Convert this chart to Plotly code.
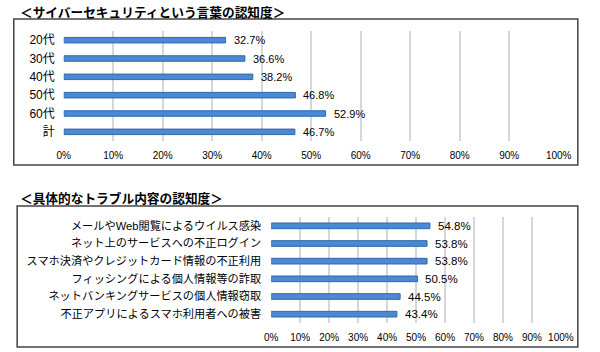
import plotly.graph_objects as go

# ---- data ----
age_groups = ["20代", "30代", "40代", "50代", "60代", "計"]
age_values = [32.7, 36.6, 38.2, 46.8, 52.9, 46.7]

troubles = [
    "メールやWeb閲覧によるウイルス感染",
    "ネット上のサービスへの不正ログイン",
    "スマホ決済やクレジットカード情報の不正利用",
    "フィッシングによる個人情報等の詐取",
    "ネットバンキングサービスの個人情報窃取",
    "不正アプリによるスマホ利用者への被害",
]
trouble_values = [54.8, 53.8, 53.8, 50.5, 44.5, 43.4]

title_top = "＜サイバーセキュリティという言葉の認知度＞"
title_bottom = "＜具体的なトラブル内容の認知度＞"
x_ticks = list(range(0, 101, 10))
x_tick_labels = [f"{t}%" for t in x_ticks]

W, H = 600, 352
FONT = "Liberation Sans, Noto Sans CJK JP, sans-serif"
BAR_FILL = "#4a89d4"
BAR_LINE = "#2f68ad"
GRID = "#d6d6d6"

fig = go.Figure()

fig.add_trace(go.Bar(
    x=age_values, y=age_groups, orientation="h",
    width=0.3, marker=dict(color=BAR_FILL, line=dict(color=BAR_LINE, width=1)),
    xaxis="x", yaxis="y", hoverinfo="skip", showlegend=False,
))
fig.add_trace(go.Bar(
    x=trouble_values, y=troubles, orientation="h",
    width=0.32, marker=dict(color=BAR_FILL, line=dict(color=BAR_LINE, width=1)),
    xaxis="x2", yaxis="y2", hoverinfo="skip", showlegend=False,
))

def px_x(p):
    return p / W

def px_y(p):
    return 1 - p / H

xcommon = dict(
    range=[0, 100], tickvals=x_ticks, ticktext=x_tick_labels, showgrid=True,
    gridcolor=GRID, gridwidth=1.5, zeroline=False, showline=False,
    ticks="", tickfont=dict(family=FONT, size=10, color="#000"),
    fixedrange=True,
)
ycommon = dict(
    autorange="reversed", showgrid=False, zeroline=False, showline=False,
    ticks="", fixedrange=True,
)

annotations = []
for v, c in zip(age_values, age_groups):
    annotations.append(dict(x=v, y=c, xref="x", yref="y", text=f"{v:.1f}%",
                            showarrow=False, xanchor="left", xshift=6,
                            font=dict(family=FONT, size=11, color="#000")))
for v, c in zip(trouble_values, troubles):
    annotations.append(dict(x=v, y=c, xref="x2", yref="y2", text=f"{v:.1f}%",
                            showarrow=False, xanchor="left", xshift=6,
                            font=dict(family=FONT, size=11.5, color="#000")))

annotations.append(dict(x=px_x(11), y=px_y(11), xref="paper", yref="paper",
                        text=f"<b>{title_top}</b>", showarrow=False,
                        xanchor="left", yanchor="middle",
                        font=dict(family="Noto Sans CJK JP", size=12.7, color="#000")))
annotations.append(dict(x=px_x(11), y=px_y(197), xref="paper", yref="paper",
                        text=f"<b>{title_bottom}</b>", showarrow=False,
                        xanchor="left", yanchor="middle",
                        font=dict(family="Noto Sans CJK JP", size=12.7, color="#000")))

shapes = [
    dict(type="rect", xref="paper", yref="paper",
         x0=px_x(7), x1=px_x(590.5), y0=px_y(165), y1=px_y(19),
         line=dict(color="#444", width=1.5), fillcolor="rgba(0,0,0,0)", layer="below"),
    dict(type="rect", xref="paper", yref="paper",
         x0=px_x(10.5), x1=px_x(590.5), y0=px_y(347), y1=px_y(206),
         line=dict(color="#444", width=1.5), fillcolor="rgba(0,0,0,0)", layer="below"),
]

fig.update_layout(
    width=W, height=H,
    margin=dict(l=0, r=0, t=0, b=0),
    paper_bgcolor="white", plot_bgcolor="white",
    bargap=0.5,
    xaxis=dict(domain=[px_x(58.7), px_x(570.7)], anchor="y",
               ticklabelstandoff=7, **xcommon),
    yaxis=dict(domain=[px_y(141), px_y(31)], anchor="x",
               tickfont=dict(family=FONT, size=12, color="#000"),
               ticklabelstandoff=8, **ycommon),
    xaxis2=dict(domain=[px_x(273.3), px_x(573)], anchor="y2",
                ticklabelstandoff=7, **xcommon),
    yaxis2=dict(domain=[px_y(323), px_y(217)], anchor="x2",
                tickfont=dict(family=FONT, size=11.2, color="#000"),
                ticklabelstandoff=9, **ycommon),
    annotations=annotations,
    shapes=shapes,
)

fig.write_html("out.html")
